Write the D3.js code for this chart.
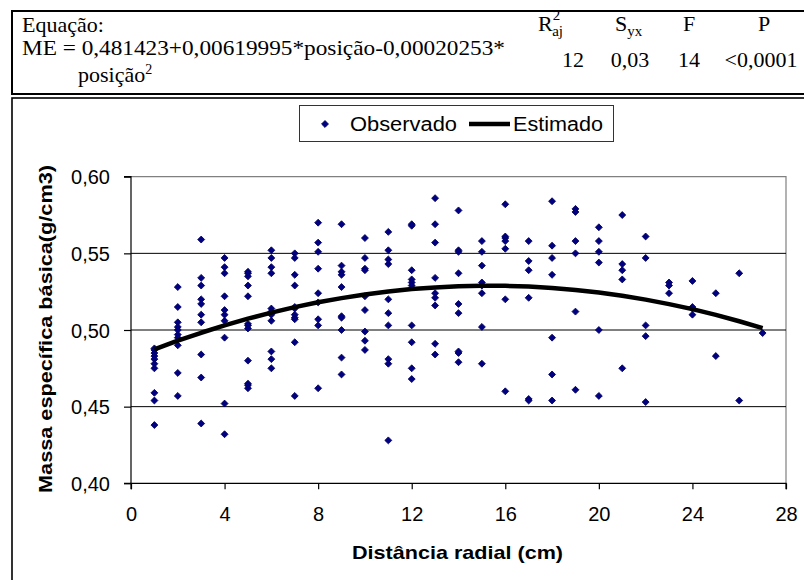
<!DOCTYPE html>
<html><head><meta charset="utf-8">
<script src="https://cdn.jsdelivr.net/npm/d3@7/dist/d3.min.js"></script>
<style>body{margin:0;background:#fff}svg{display:block}</style>
</head><body><div id="chart"></div>
<script>
const positions = [1,2,3,4,5,6,7,8,9,10,11,12,13,14,15,16,17,18,19,20,21,22,23,24,25,26,27];
const observed = [
  [0.488,0.487,0.485,0.483,0.481,0.478,0.475,0.459,0.454,0.438],
  [0.528,0.515,0.505,0.502,0.500,0.497,0.495,0.490,0.472,0.457],
  [0.559,0.534,0.529,0.520,0.517,0.510,0.505,0.484,0.469,0.439],
  [0.547,0.541,0.537,0.522,0.513,0.510,0.506,0.495,0.452,0.432],
  [0.538,0.537,0.535,0.529,0.522,0.504,0.503,0.501,0.480,0.465,0.464,0.462],
  [0.552,0.547,0.541,0.537,0.514,0.512,0.510,0.506,0.486,0.481,0.475],
  [0.550,0.547,0.536,0.529,0.515,0.514,0.510,0.508,0.507,0.492,0.457],
  [0.570,0.557,0.551,0.540,0.524,0.518,0.507,0.503,0.462],
  [0.569,0.542,0.538,0.536,0.528,0.509,0.508,0.500,0.482,0.471],
  [0.560,0.547,0.540,0.539,0.522,0.513,0.499,0.493,0.487],
  [0.564,0.552,0.546,0.543,0.520,0.511,0.503,0.481,0.478,0.428],
  [0.569,0.568,0.539,0.533,0.531,0.529,0.503,0.492,0.475,0.468],
  [0.586,0.569,0.557,0.534,0.524,0.521,0.516,0.491,0.484],
  [0.578,0.552,0.551,0.537,0.517,0.511,0.486,0.485,0.479],
  [0.558,0.551,0.542,0.531,0.529,0.524,0.502,0.478],
  [0.582,0.561,0.560,0.558,0.553,0.520,0.460],
  [0.558,0.545,0.539,0.521,0.455,0.454],
  [0.584,0.555,0.547,0.536,0.495,0.471,0.454],
  [0.579,0.577,0.558,0.550,0.512,0.461],
  [0.567,0.558,0.551,0.544,0.500,0.457],
  [0.575,0.543,0.539,0.533,0.475],
  [0.561,0.547,0.503,0.496,0.453],
  [0.531,0.529,0.524],
  [0.532,0.515,0.514,0.510],
  [0.524,0.483],
  [0.537,0.454],
  [0.498]
];
const estimated = [0.4874,0.4930,0.4982,0.5030,0.5074,0.5113,0.5149,0.5181,0.5208,0.5232,0.5251,0.5267,0.5278,0.5285,0.5289,0.5288,0.5283,0.5274,0.5261,0.5244,0.5223,0.5198,0.5169,0.5136,0.5099,0.5057,0.5012];
const xTicks = [0,4,8,12,16,20,24,28];
const yTicks = [0.40,0.45,0.50,0.55,0.60];
const yGrid = [0.45,0.50,0.55];
const seriesNames = ["Observado","Estimado"];
const headerCols = ["R","S","F","P"];
const statValues = ["12","0,03","14","<0,0001"];

const W = 804, H = 580;
const svg = d3.select("#chart").append("svg").attr("width", W).attr("height", H);
svg.append("rect").attr("width", W).attr("height", H).attr("fill", "#fff");

const sans = "Liberation Sans, Arial, sans-serif";
const serif = "Liberation Serif, 'Times New Roman', serif";

// Table box
svg.append("rect").attr("x", 12).attr("y", 11).attr("width", 820).attr("height", 83)
  .attr("fill", "none").attr("stroke", "#000").attr("stroke-width", 2);
// chart frame
svg.append("rect").attr("x", 12).attr("y", 98).attr("width", 820).attr("height", 500)
  .attr("fill", "none").attr("stroke", "#000").attr("stroke-width", 1.6);

const T = svg.append("g").attr("font-family", serif).attr("font-size", 22).attr("fill", "#000");
T.append("text").attr("x", 22).attr("y", 32).text("Equação:");
T.append("text").attr("x", 22).attr("y", 55).attr("textLength", 483).attr("lengthAdjust", "spacingAndGlyphs")
  .text("ME = 0,481423+0,00619995*posição-0,00020253*");
const pos2 = T.append("text").attr("x", 78).attr("y", 82);
pos2.append("tspan").text("posição");
pos2.append("tspan").attr("dy", -8).attr("font-size", 14).text("2");

// headers
const h1 = T.append("text").attr("x", 538).attr("y", 31);
h1.append("tspan").text(headerCols[0]);
h1.append("tspan").attr("dy", -11).attr("font-size", 15).text("2");
h1.append("tspan").attr("dx", -8).attr("dy", 16).attr("font-size", 15).text("aj");
const h2 = T.append("text").attr("x", 615).attr("y", 31);
h2.append("tspan").text(headerCols[1]);
h2.append("tspan").attr("dy", 5).attr("font-size", 15).text("yx");
T.append("text").attr("x", 689).attr("y", 31).attr("text-anchor", "middle").text(headerCols[2]);
T.append("text").attr("x", 764).attr("y", 31).attr("text-anchor", "middle").text(headerCols[3]);
const valX = [573, 630, 689, 761];
T.selectAll("text.val").data(statValues).enter().append("text").attr("class", "val")
  .attr("x", (d, i) => valX[i]).attr("y", 67).attr("text-anchor", "middle").text(d => d);

// Plot
const x0 = 131, x1 = 786, y0 = 483.3, y1 = 176.7;
const x = d3.scaleLinear().domain([0, 28]).range([x0, x1]);
const y = d3.scaleLinear().domain([0.40, 0.60]).range([y0, y1]);

// plot border (gray top/right)
svg.append("path").attr("d", `M${x0},${y(0.60)}H${x1}V${y0}`).attr("fill", "none")
  .attr("stroke", "#808080").attr("stroke-width", 1.2);
svg.selectAll("line.grid").data(yGrid).enter().append("line").attr("class", "grid")
  .attr("x1", x0).attr("x2", x1).attr("y1", d => y(d)).attr("y2", d => y(d))
  .attr("stroke", "#000").attr("stroke-width", 1);

const fmt = d => d3.format(".2f")(d).replace(".", ",");
const yAxis = svg.append("g").attr("transform", `translate(${x0},0)`)
  .call(d3.axisLeft(y).tickValues(yTicks).tickSize(7).tickPadding(14).tickFormat(fmt));
const xAxis = svg.append("g").attr("transform", `translate(0,${y0})`)
  .call(d3.axisBottom(x).tickValues(xTicks).tickSize(6).tickPadding(18).tickFormat(d3.format("d")));
[yAxis, xAxis].forEach(a => {
  a.select(".domain").attr("stroke", "#000").attr("stroke-width", 1.2);
  a.selectAll(".tick line").attr("stroke", "#000").attr("stroke-width", 1.2);
  a.selectAll(".tick text").attr("font-family", sans).attr("font-size", 20).attr("fill", "#000");
});
yAxis.select(".domain").attr("d", `M-7,${y0}H0V${y1}H-7`);
xAxis.select(".domain").attr("d", `M${x0},6V0H${x1}V6`);
yAxis.selectAll(".tick text").attr("dy", "0.36em");
xAxis.selectAll(".tick text").attr("dy", "0.71em");

// points
const pts = [];
positions.forEach((p, i) => observed[i].forEach(v => pts.push([p, v])));
const diamond = d3.symbol().type(d3.symbolSquare).size(24)();
svg.append("g").selectAll("path").data(pts).enter().append("path")
  .attr("d", diamond)
  .attr("transform", d => `translate(${x(d[0])},${y(d[1])}) rotate(45)`)
  .attr("fill", "#000080").attr("stroke", "#000060").attr("stroke-width", 0.8);

// estimated line
const line = d3.line().x((d, i) => x(positions[i])).y(d => y(d));
svg.append("path").datum(estimated).attr("d", line).attr("fill", "none")
  .attr("stroke", "#000").attr("stroke-width", 4.5).attr("stroke-linejoin", "round");

// legend
const L = svg.append("g");
L.append("rect").attr("x", 299.5).attr("y", 105.5).attr("width", 314).attr("height", 36)
  .attr("fill", "#fff").attr("stroke", "#333").attr("stroke-width", 1);
L.append("path").attr("d", diamond).attr("transform", "translate(325,124) rotate(45)")
  .attr("fill", "#000080").attr("stroke", "#000060").attr("stroke-width", 0.8);
L.append("text").attr("x", 350).attr("y", 131).attr("font-family", sans).attr("font-size", 20)
  .attr("textLength", 107).attr("lengthAdjust", "spacingAndGlyphs").text(seriesNames[0]);
L.append("line").attr("x1", 469).attr("x2", 510).attr("y1", 124).attr("y2", 124)
  .attr("stroke", "#000").attr("stroke-width", 4.5);
L.append("text").attr("x", 513).attr("y", 131).attr("font-family", sans).attr("font-size", 20)
  .attr("textLength", 90).attr("lengthAdjust", "spacingAndGlyphs").text(seriesNames[1]);

// axis titles
svg.append("text").attr("x", 352).attr("y", 559).attr("font-family", sans).attr("font-weight", "bold")
  .attr("font-size", 19).attr("textLength", 211).attr("lengthAdjust", "spacingAndGlyphs")
  .text("Distância radial (cm)");
svg.append("text").attr("transform", "translate(52,493) rotate(-90)").attr("font-family", sans)
  .attr("font-weight", "bold").attr("font-size", 19).attr("textLength", 328).attr("lengthAdjust", "spacingAndGlyphs")
  .text("Massa específica básica(g/cm3)");
</script></body></html>
